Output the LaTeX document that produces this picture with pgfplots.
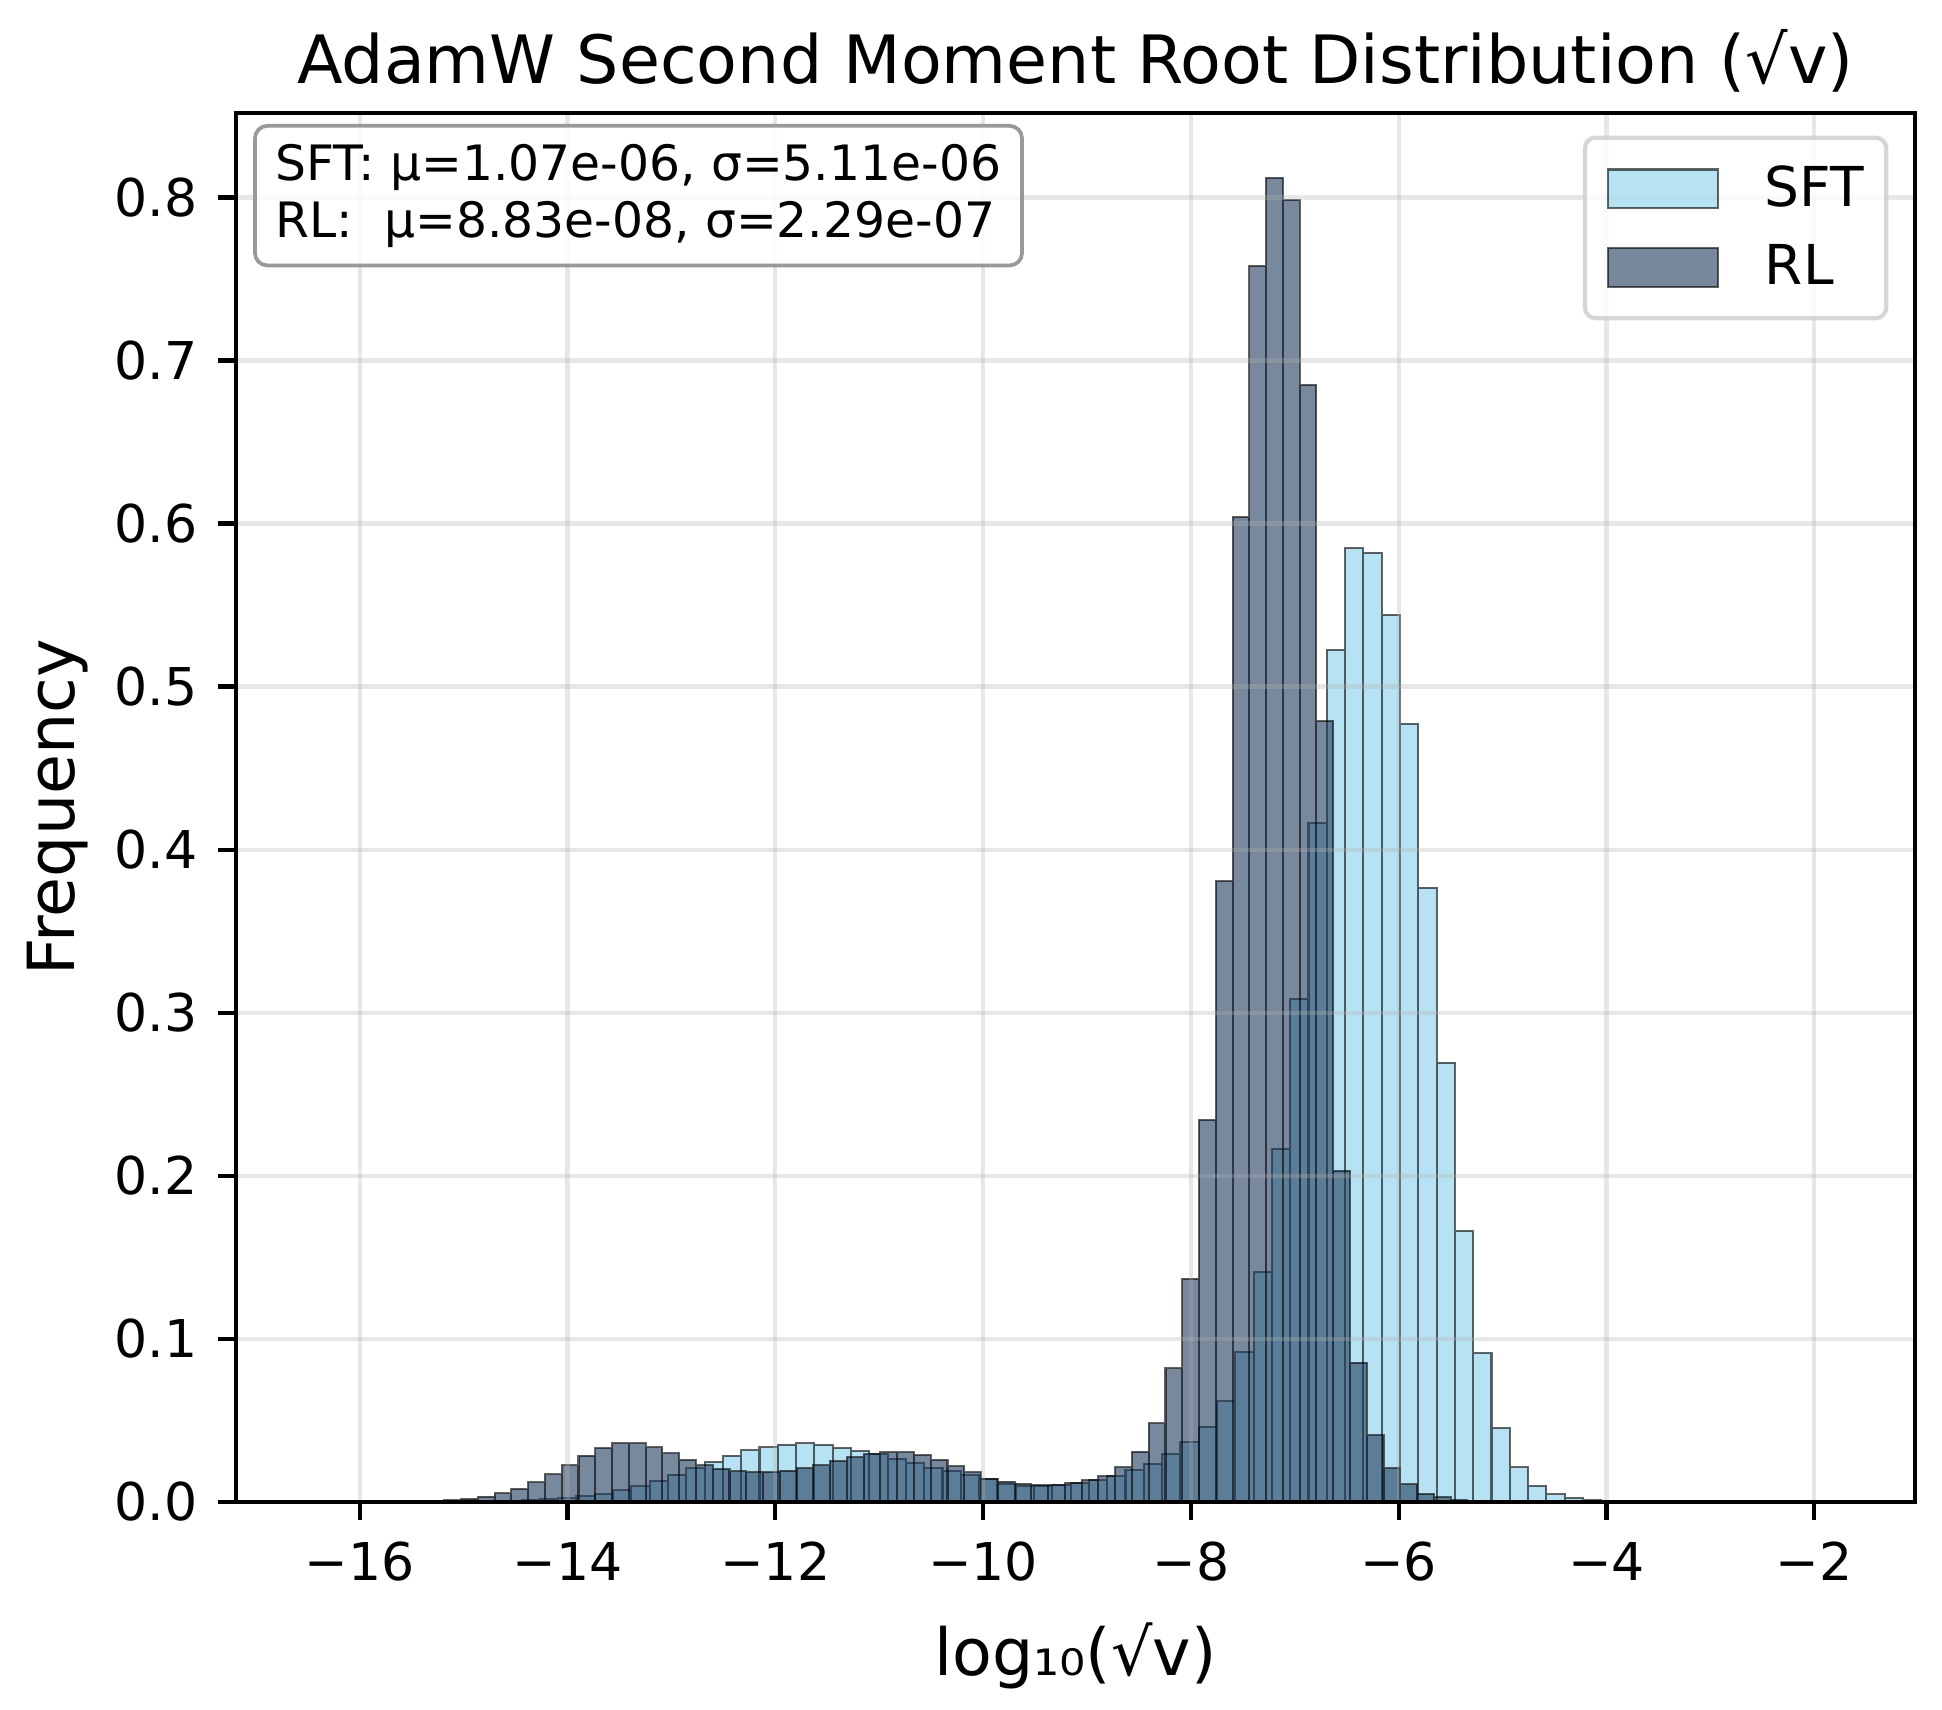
\documentclass[border=0pt]{standalone}
\usepackage{fontspec}
\setmainfont{DejaVu Sans}
\usepackage{pgfplots}
\usepackage{pgfplotstable}
\pgfplotsset{compat=1.18}

\definecolor{sftblue}{RGB}{135,206,235}
\definecolor{rlnavy}{RGB}{30,58,92}
\definecolor{gridgray}{RGB}{176,176,176}

% left bin edge, normalised height
\pgfplotstableread{
x y
-14.6170 0.0004
-14.4409 0.0008
-14.2647 0.0014
-14.0886 0.0020
-13.9124 0.0033
-13.7363 0.0047
-13.5602 0.0070
-13.3840 0.0094
-13.2079 0.0129
-13.0318 0.0166
-12.8557 0.0204
-12.6795 0.0245
-12.5034 0.0282
-12.3273 0.0315
-12.1511 0.0333
-11.9750 0.0350
-11.7989 0.0358
-11.6227 0.0350
-11.4466 0.0331
-11.2705 0.0313
-11.0944 0.0292
-10.9182 0.0262
-10.7421 0.0235
-10.5660 0.0209
-10.3898 0.0186
-10.2137 0.0162
-10.0376 0.0137
-9.8614 0.0110
-9.6853 0.0095
-9.5092 0.0098
-9.3331 0.0100
-9.1569 0.0117
-8.9808 0.0133
-8.8047 0.0155
-8.6285 0.0192
-8.4524 0.0233
-8.2763 0.0291
-8.1001 0.0364
-7.9240 0.0458
-7.7479 0.0616
-7.5718 0.0916
-7.3956 0.1407
-7.2195 0.2162
-7.0434 0.3084
-6.8672 0.4162
-6.6911 0.5225
-6.5150 0.5849
-6.3388 0.5822
-6.1627 0.5438
-5.9866 0.4773
-5.8105 0.3767
-5.6343 0.2693
-5.4582 0.1661
-5.2821 0.0912
-5.1059 0.0452
-4.9298 0.0211
-4.7537 0.0096
-4.5776 0.0045
-4.4014 0.0023
-4.2253 0.0008
-4.0492 0
}\sfttable

\pgfplotstableread{
x y
-15.3458 0.0003
-15.1844 0.0008
-15.0230 0.0018
-14.8616 0.0031
-14.7002 0.0051
-14.5388 0.0078
-14.3774 0.0119
-14.2160 0.0168
-14.0545 0.0223
-13.8931 0.0282
-13.7317 0.0329
-13.5703 0.0358
-13.4089 0.0358
-13.2475 0.0333
-13.0861 0.0297
-12.9247 0.0256
-12.7632 0.0223
-12.6018 0.0200
-12.4404 0.0186
-12.2790 0.0180
-12.1176 0.0182
-11.9562 0.0190
-11.7948 0.0204
-11.6334 0.0223
-11.4720 0.0249
-11.3105 0.0272
-11.1491 0.0290
-10.9877 0.0303
-10.8263 0.0303
-10.6649 0.0286
-10.5035 0.0256
-10.3421 0.0217
-10.1807 0.0180
-10.0193 0.0141
-9.8579 0.0123
-9.6965 0.0110
-9.5350 0.0104
-9.3736 0.0104
-9.2122 0.0112
-9.0508 0.0131
-8.8894 0.0155
-8.7280 0.0211
-8.5666 0.0307
-8.4052 0.0481
-8.2438 0.0818
-8.0824 0.1368
-7.9209 0.2342
-7.7595 0.3806
-7.5981 0.6040
-7.4367 0.7580
-7.2753 0.8120
-7.1139 0.7985
-6.9525 0.6850
-6.7911 0.4788
-6.6297 0.2030
-6.4683 0.0853
-6.3068 0.0407
-6.1454 0.0205
-5.9840 0.0107
-5.8226 0.0047
-5.6612 0.0027
-5.4998 0.0012
-5.3384 0.0005
-5.1770 0
}\rltable

\begin{document}
\begin{tikzpicture}
\path[use as bounding box] (-56.64pt,-49.75pt) rectangle (409.44pt,360.41pt);
\begin{axis}[
  name=ax,
  at={(0,0)}, anchor=south west,
  scale only axis, width=402.96pt, height=333.36pt,
  xmin=-17.19, xmax=-1.03, ymin=0, ymax=0.852,
  axis on top,
  axis line style={line width=1pt},
  tick style={line width=1pt, black},
  tick align=outside, major tick length=4.4pt,
  xtick pos=lower, ytick pos=left,
  xtick={-16,-14,-12,-10,-8,-6,-4,-2},
  xticklabels={−16,−14,−12,−10,−8,−6,−4,−2},
  ytick={0,0.1,0.2,0.3,0.4,0.5,0.6,0.7,0.8},
  yticklabels={0.0,0.1,0.2,0.3,0.4,0.5,0.6,0.7,0.8},
  ticklabel style={font=\fontsize{12.5}{15}\selectfont, inner sep=0pt},
  xticklabel style={yshift=-5.1pt},
  yticklabel style={xshift=-4.6pt},
  grid=major,
  grid style={line width=1pt, draw=gridgray, draw opacity=0.3},
  every axis title shift=0pt,
  title={AdamW Second Moment Root Distribution (√v)},
  title style={at={(axis description cs:0.5,1.0213)}, anchor=base, inner sep=0pt,
    font=\fontsize{16}{19}\selectfont},
  xlabel={log₁₀(√v)},
  xlabel style={at={(axis description cs:0.5,-0.1248)}, anchor=base, inner sep=0pt,
    font=\fontsize{15.6}{18}\selectfont},
  ylabel={Frequency},
  ylabel style={at={(axis description cs:-0.0874,0.5)}, anchor=south, inner sep=0pt,
    font=\fontsize{15.6}{18}\selectfont},
  legend cell align=left,
  legend style={
    at={(axis description cs:1,1)}, anchor=north east, xshift=-6.4pt, yshift=-5.5pt,
    draw=black!20, line width=1pt, rounded corners=2.5pt,
    fill=white, fill opacity=0.8, draw opacity=0.8, text opacity=1,
    font=\fontsize{13.2}{15.8}\selectfont,
    inner xsep=5.3pt, inner ysep=6.6pt, row sep=7.7pt,
    nodes={inner sep=0pt},
    /tikz/every odd column/.append style={column sep=11pt},
  },
]
\addplot[ybar interval, fill=sftblue, fill opacity=0.6, draw=black, draw opacity=0.6,
  line width=0.5pt,
  legend image code/.code={\draw[fill=sftblue, fill opacity=0.6, draw=black,
    draw opacity=0.6, line width=0.5pt, sharp corners] (0pt,-4.62pt) rectangle (26.4pt,4.62pt);}]
  table[x=x, y=y] {\sfttable};
\addlegendentry{SFT}
\addplot[ybar interval, fill=rlnavy, fill opacity=0.6, draw=black, draw opacity=0.6,
  line width=0.5pt,
  legend image code/.code={\draw[fill=rlnavy, fill opacity=0.6, draw=black,
    draw opacity=0.6, line width=0.5pt, sharp corners] (0pt,-4.62pt) rectangle (26.4pt,4.62pt);}]
  table[x=x, y=y] {\rltable};
\addlegendentry{RL}
\end{axis}
\node[anchor=north west, draw=black!40, line width=0.9pt, rounded corners=3pt,
  fill=white, fill opacity=0.8, text opacity=1, inner xsep=5pt, inner ysep=4.4pt,
  align=left, font=\fontsize{11.7}{13.6}\selectfont]
  at (4.1pt,330.66pt) {SFT: μ=1.07e-06, σ=5.11e-06\\RL:\ \ μ=8.83e-08, σ=2.29e-07};
\end{tikzpicture}
\end{document}
